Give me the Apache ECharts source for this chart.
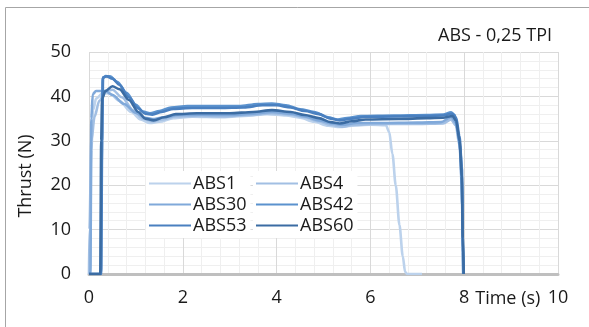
<!DOCTYPE html>
<html><head><meta charset="utf-8">
<script src="https://cdn.jsdelivr.net/npm/echarts@6/dist/echarts.min.js"></script>
<style>html,body{margin:0;padding:0;background:#fff}#c{width:589px;height:327px}</style>
</head><body><div id="c"></div>
<script>
const seriesNames = ['ABS1','ABS4','ABS30','ABS42','ABS53','ABS60'];
const xTicks = [0,2,4,6,8,10];
const yTicks = [0,10,20,30,40,50];

const ABS1 = [[0,0],[0.02,0],[0.05,28],[0.09,37],[0.15,39.5],[0.3,40.8],[0.45,40.6],[0.65,39],[0.9,36.5],[1.1,34.8],[1.3,34],[1.5,34.3],[1.8,35.1],[2.2,35.4],[2.8,35.3],[3.3,35.6],[3.8,36],[4.2,35.7],[4.5,35.2],[4.8,34.3],[5.1,33.4],[5.35,33.1],[5.6,33.4],[6.0,33.6],[6.33,33.5],[6.4,32],[6.47,27],[6.54,20],[6.62,11],[6.69,4],[6.74,0.5],[6.78,0],[7.1,0]];
const ABS4 = [[0,0],[0.01,10],[0.05,30],[0.12,35.5],[0.22,39],[0.35,41.2],[0.5,41.5],[0.7,39.8],[0.95,36.8],[1.15,35],[1.35,34.4],[1.55,34.8],[1.85,35.5],[2.3,35.6],[2.9,35.5],[3.4,35.8],[3.9,36.2],[4.3,35.9],[4.6,35.3],[4.9,34.4],[5.15,33.6],[5.4,33.2],[5.65,33.6],[6.1,33.8],[7.0,33.8],[7.55,33.9],[7.72,34.8],[7.82,33.5],[7.9,29],[7.95,20],[7.97,5],[7.98,0]];
const ABS30 = [[0,0],[0.03,0],[0.05,35],[0.08,40.5],[0.15,41.2],[0.35,41.2],[0.5,40.3],[0.75,38.3],[1.0,36.3],[1.2,35.2],[1.35,34.9],[1.6,35.3],[1.9,35.8],[2.4,35.9],[3.0,35.8],[3.5,36.1],[3.9,36.5],[4.3,36.1],[4.6,35.5],[4.9,34.6],[5.2,33.9],[5.4,33.6],[5.7,34],[6.2,34],[7.0,34.1],[7.5,34.2],[7.72,35.3],[7.83,34],[7.9,29.5],[7.95,21],[7.97,6],[7.98,0]];
const ABS42 = [[0,0],[0.25,0],[0.27,25],[0.29,44],[0.35,44.6],[0.45,44.5],[0.6,43.3],[0.8,40.8],[1.0,38.1],[1.15,36.6],[1.3,36.2],[1.5,36.7],[1.75,37.5],[2.1,37.8],[2.7,37.8],[3.2,37.8],[3.6,38.3],[3.9,38.4],[4.2,38.0],[4.5,37.1],[4.8,36.5],[5.1,35.3],[5.3,34.8],[5.5,35.1],[5.8,35.6],[6.5,35.7],[7.2,35.8],[7.55,35.9],[7.72,36.4],[7.8,35.8],[7.87,32],[7.93,27],[7.96,15],[7.98,0]];
const ABS53 = [[0,0],[0.26,0],[0.28,30],[0.3,44.3],[0.38,44.5],[0.5,44.0],[0.65,42.6],[0.85,39.8],[1.05,37.3],[1.2,36.1],[1.35,35.9],[1.55,36.5],[1.8,37.2],[2.2,37.4],[2.8,37.4],[3.3,37.5],[3.7,38.0],[4.0,38.0],[4.3,37.5],[4.6,36.7],[4.9,36],[5.15,35],[5.35,34.6],[5.6,35],[5.9,35.4],[6.6,35.5],[7.2,35.6],[7.55,35.7],[7.75,36.1],[7.83,35.2],[7.9,31],[7.95,24],[7.97,10],[7.99,0]];
const ABS60 = [[0,0],[0.24,0],[0.26,30],[0.28,39.5],[0.35,41.2],[0.5,42.3],[0.65,41.6],[0.85,39.2],[1.05,36.5],[1.2,35],[1.38,34.6],[1.6,35.3],[1.85,36],[2.3,36.2],[3.0,36.2],[3.5,36.5],[3.9,36.9],[4.3,36.5],[4.6,35.8],[4.9,35.1],[5.15,34.2],[5.35,33.9],[5.6,34.4],[5.9,34.8],[6.6,34.9],[7.2,35.1],[7.55,35.2],[7.75,35.6],[7.83,34.5],[7.9,30],[7.95,22],[7.97,8],[7.99,0]];

const seriesData = [ABS1, ABS4, ABS30, ABS42, ABS53, ABS60];
const colors = ['#bcd2ec','#a2bfe3','#80a9da','#5b92ce','#4a80c0','#3b6ca3'];

const FONT = 'Open Sans';
const chart = echarts.init(document.getElementById('c'), null, {renderer:'canvas'});
const legendCommon = {
  orient:'vertical', itemWidth:42, itemHeight:14, itemGap:0,
  backgroundColor:'#fff', padding:[2,4,2,2],
  itemStyle:{opacity:0},
  textStyle:{fontFamily:FONT, fontSize:18, lineHeight:21, color:'#1a1a1a', padding:[0,0,0,-3]}
};
chart.setOption({
  animation:false,
  backgroundColor:'#fff',
  color: colors,
  title:{text:'ABS - 0,25 TPI', right:32, top:22, textStyle:{fontFamily:FONT, fontSize:18, fontWeight:'normal', color:'#1a1a1a'}},
  graphic:[{type:'rect', shape:{x:5.5,y:7.5,width:620,height:340}, style:{fill:'none', stroke:'#a6a6a6', lineWidth:1}, silent:true}],
  legend:[
    Object.assign({left:146, top:171, data:['ABS1','ABS30','ABS53']}, legendCommon),
    Object.assign({left:253, top:171, data:['ABS4','ABS42','ABS60']}, legendCommon)
  ],
  grid:{left:89, right:31, top:52, bottom:53, containLabel:false},
  xAxis:{
    type:'value', min:xTicks[0], max:xTicks[xTicks.length-1], interval:2,
    name:'Time (s)', nameLocation:'end', nameGap:-93,
    nameTextStyle:{fontFamily:FONT, fontSize:18, color:'#1a1a1a', align:'left', verticalAlign:'top', padding:[16,0,0,0]},
    axisLine:{show:true, onZero:false, lineStyle:{color:'#bfbfbf', width:3}},
    axisTick:{show:false},
    axisLabel:{fontFamily:FONT, fontSize:18, color:'#1a1a1a', margin:15},
    splitLine:{show:true, lineStyle:{color:'#d9d9d9', width:1}},
    minorTick:{show:false, splitNumber:5},
    minorSplitLine:{show:true, lineStyle:{color:'#efefef', width:1}}
  },
  yAxis:{
    type:'value', min:yTicks[0], max:yTicks[yTicks.length-1], interval:10,
    name:'Thrust (N)', nameLocation:'middle', nameGap:54,
    nameTextStyle:{fontFamily:FONT, fontSize:18, color:'#1a1a1a', padding:[0,26,0,0]},
    axisLine:{show:false}, axisTick:{show:false},
    axisLabel:{fontFamily:FONT, fontSize:18, color:'#1a1a1a', margin:18},
    splitLine:{show:true, lineStyle:{color:'#d9d9d9', width:1}},
    minorTick:{show:false, splitNumber:5},
    minorSplitLine:{show:true, lineStyle:{color:'#efefef', width:1}}
  },
  series: seriesNames.map((n,i)=>({
    name:n, type:'line', data:seriesData[i], symbol:'none', smooth:0.3, smoothMonotone:'x',
    lineStyle:{width:2.6, color:colors[i]}, itemStyle:{color:colors[i]}, z:2+i
  }))
});
</script></body></html>
